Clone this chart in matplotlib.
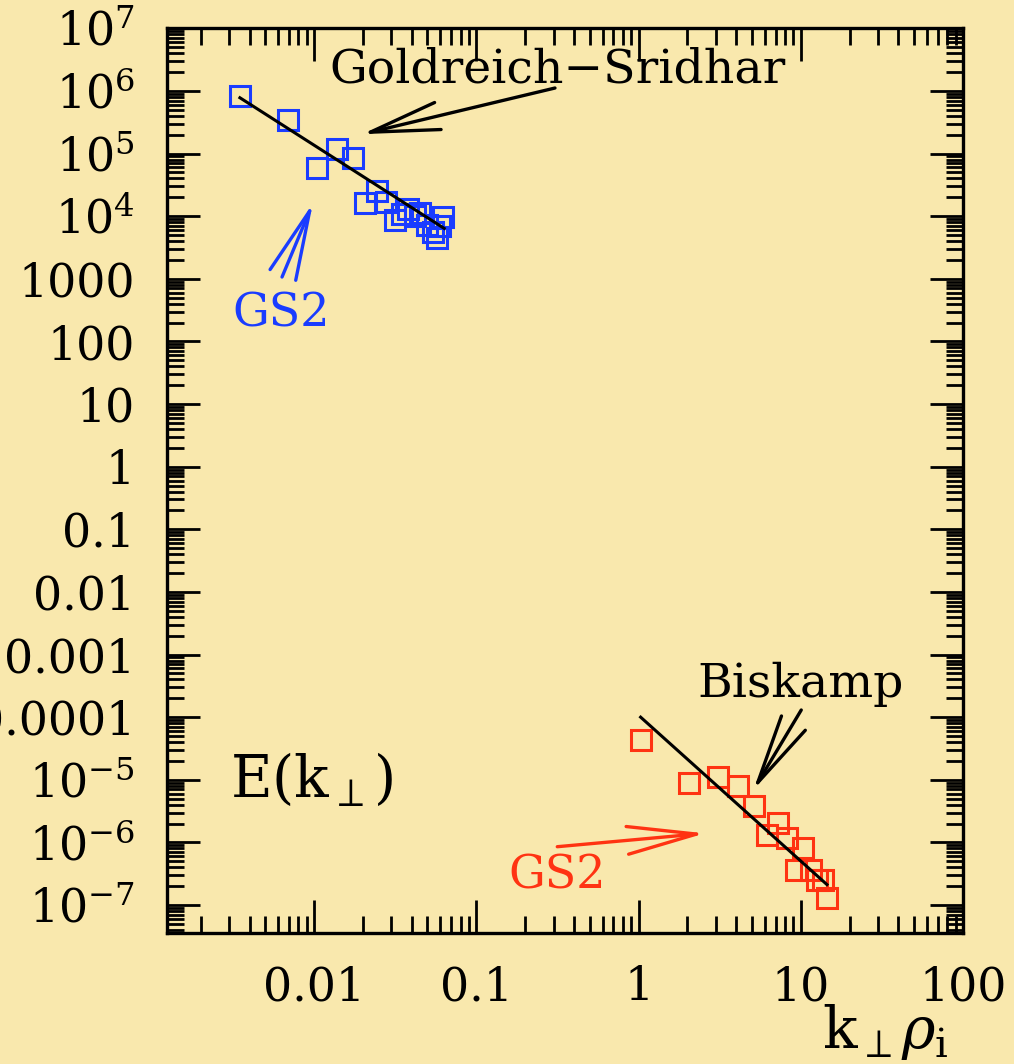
import numpy as np
import matplotlib.pyplot as plt
from matplotlib.ticker import FixedLocator, LogLocator, NullFormatter

plt.rcParams['font.family'] = ['DejaVu Serif']
plt.rcParams['mathtext.fontset'] = 'dejavuserif'

# GS2 simulation points, MHD range (blue)
gs2_mhd_k = [0.00349, 0.00692, 0.01044, 0.01387, 0.0174, 0.0207, 0.0245, 0.0278, 0.0316,
             0.0349, 0.0380, 0.0420, 0.0451, 0.0499, 0.0543, 0.0574, 0.0600, 0.0625]
gs2_mhd_E = [8.3e5, 3.43e5, 5.86e4, 1.18e5, 8.47e4, 1.62e4, 2.52e4, 1.68e4, 8.66e3,
             1.08e4, 1.30e4, 1.0e4, 1.12e4, 7.21e3, 5.57e3, 4.47e3, 6.95e3, 9.68e3]

# GS2 simulation points, kinetic range (red)
gs2_kin_k = [1.03, 2.04, 3.07, 4.08, 5.13, 6.17, 7.21, 8.20, 9.31, 10.3, 11.5, 12.6, 13.7, 14.5]
gs2_kin_E = [4.28e-5, 8.8e-6, 1.10e-5, 7.87e-6, 3.78e-6, 1.30e-6, 2.02e-6, 1.16e-6,
             3.58e-7, 8.05e-7, 3.58e-7, 2.48e-7, 2.48e-7, 1.28e-7]

# theory lines (end points)
gs_k = [0.00349, 0.0634]
gs_E = [7.78e5, 6.38e3]
bisk_k = [1.03, 14.5]
bisk_E = [1.0e-4, 2.12e-7]

xticks = [0.01, 0.1, 1, 10, 100]
xlabels = ['0.01', '0.1', '1', '10', '100']
yticks = [1e7, 1e6, 1e5, 1e4, 1e3, 1e2, 1e1, 1, 1e-1, 1e-2, 1e-3, 1e-4, 1e-5, 1e-6, 1e-7]
ylabels = [r'$10^7$', r'$10^6$', r'$10^5$', r'$10^4$', '1000', '100', '10', '1',
           '0.1', '0.01', '0.001', '0.0001', r'$10^{-5}$', r'$10^{-6}$', r'$10^{-7}$']

bg = '#f9e8ad'
blue = '#1a3cff'
red = '#ff3312'

fig = plt.figure(figsize=(10.14, 10.64), dpi=100, facecolor=bg)
ax = fig.add_axes([0.1647, 0.1231, 0.785, 0.8503])
ax.set_facecolor(bg)
ax.set_xscale('log')
ax.set_yscale('log')
ax.set_xlim(0.00124, 100)
ax.set_ylim(3.57e-8, 1e7)

ax.plot(gs2_mhd_k, gs2_mhd_E, 's', ms=14.5, mfc='none', mec=blue, mew=2.2)
ax.plot(gs2_kin_k, gs2_kin_E, 's', ms=14.5, mfc='none', mec=red, mew=2.2)
ax.plot(gs_k, gs_E, '-', color='black', lw=2.2)
ax.plot(bisk_k, bisk_E, '-', color='black', lw=2.2)

ax.xaxis.set_major_locator(FixedLocator(xticks))
ax.set_xticklabels(xlabels)
ax.yaxis.set_major_locator(FixedLocator(yticks))
ax.set_yticklabels(ylabels)
ax.xaxis.set_minor_locator(LogLocator(base=10, subs=np.arange(2, 10), numticks=30))
ax.yaxis.set_minor_locator(LogLocator(base=10, subs=np.arange(2, 10), numticks=30))
ax.xaxis.set_minor_formatter(NullFormatter())
ax.yaxis.set_minor_formatter(NullFormatter())
ax.tick_params(which='both', direction='in', top=True, right=True, labelsize=33, pad=23)
ax.tick_params(which='major', length=24, width=2)
ax.tick_params(which='minor', length=12, width=2)
for s in ax.spines.values():
    s.set_linewidth(2.4)

ahead = '->,head_length=5,head_width=1'
tf = ax.transAxes

ax.text(0.490, 0.9406, 'Goldreich\u2212Sridhar', transform=tf, ha='center', va='baseline', fontsize=34)
ax.annotate('', xy=(0.245, 0.883), xytext=(0.4874, 0.934), xycoords=tf, textcoords=tf,
            arrowprops=dict(arrowstyle=ahead, mutation_scale=10, color='black', lw=2.4, shrinkA=0, shrinkB=0))

ax.text(0.1432, 0.670, 'GS2', transform=tf, ha='center', va='baseline', fontsize=33, color=blue)
ax.annotate('', xy=(0.1834, 0.8069), xytext=(0.1445, 0.7251), xycoords=tf, textcoords=tf,
            arrowprops=dict(arrowstyle=ahead, mutation_scale=10, color=blue, lw=2.4, shrinkA=0, shrinkB=0))

ax.text(0.4906, 0.0497, 'GS2', transform=tf, ha='center', va='baseline', fontsize=33, color=red)
ax.annotate('', xy=(0.6759, 0.1102), xytext=(0.4903, 0.0954), xycoords=tf, textcoords=tf,
            arrowprops=dict(arrowstyle=ahead, mutation_scale=10, color=red, lw=2.4, shrinkA=0, shrinkB=0))

ax.text(0.7959, 0.2612, 'Biskamp', transform=tf, ha='center', va='baseline', fontsize=34)
ax.annotate('', xy=(0.7366, 0.1581), xytext=(0.7968, 0.2465), xycoords=tf, textcoords=tf,
            arrowprops=dict(arrowstyle=ahead, mutation_scale=10, color='black', lw=2.4, shrinkA=0, shrinkB=0))

ax.text(0.182, 0.169, r'$\mathrm{E(k}_{\perp}\mathrm{)}$', transform=tf, ha='center', va='center', fontsize=41)
fig.text(0.873, 0.030, r'$\mathrm{k}_{\perp}\rho_{\mathrm{i}}$', ha='center', va='center', fontsize=41)

fig.savefig('out.png', dpi=100, facecolor=bg)
